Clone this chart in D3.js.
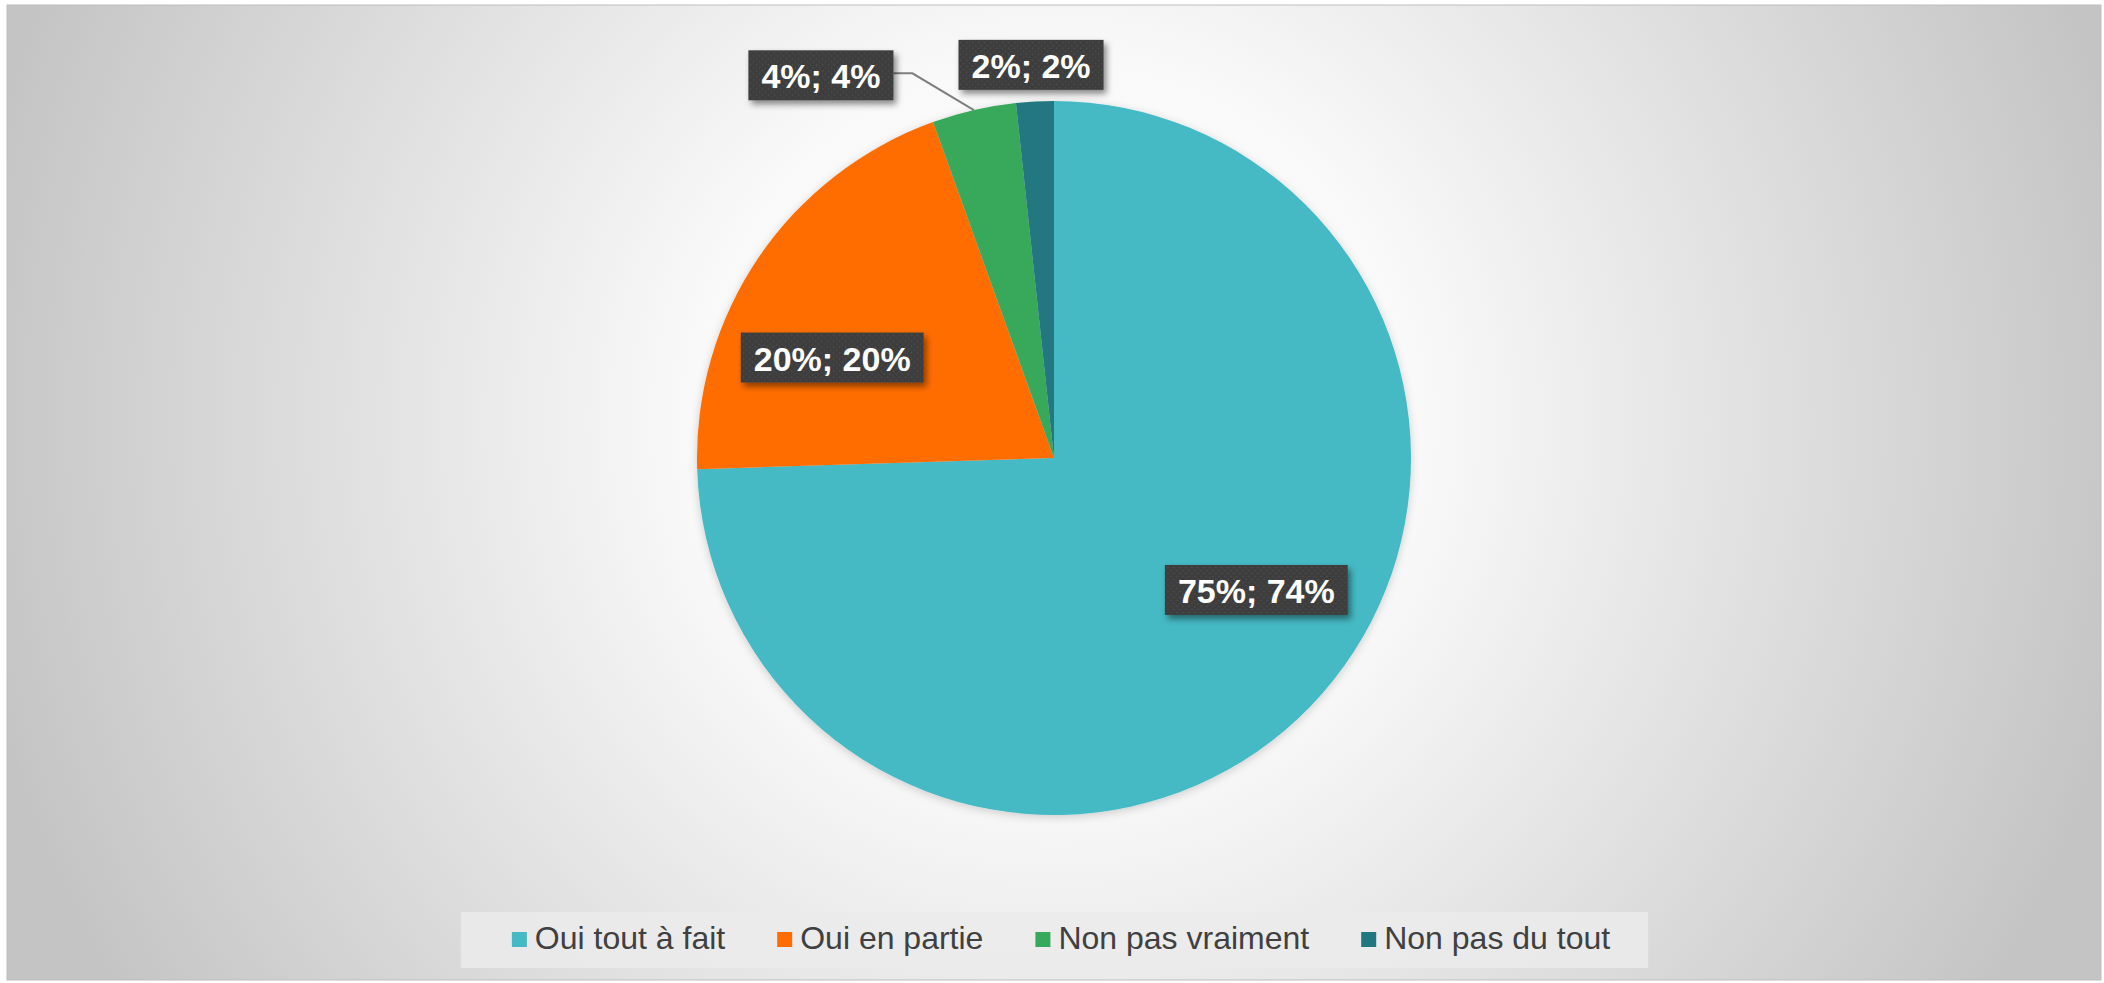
<!DOCTYPE html>
<html>
<head>
<meta charset="utf-8">
<script src="https://cdn.jsdelivr.net/npm/d3@7"></script>
<style>
  html, body { margin: 0; padding: 0; background: #ffffff; }
  svg { display: block; }
</style>
</head>
<body>
<svg id="chart" width="2104" height="983"></svg>
<script>
// ---- data ----
const categories = ["Oui tout à fait", "Oui en partie", "Non pas vraiment", "Non pas du tout"];
const values = [74.5, 20.0, 3.8, 1.7];
const labels = ["75%; 74%", "20%; 20%", "4%; 4%", "2%; 2%"];
const colors = ["#45b9c4", "#ff6d00", "#37a95a", "#217780"];

// ---- layout ----
const W = 2104, H = 983;
const cx = 1054, cy = 458, R = 357;
const svg = d3.select("#chart");
const defs = svg.append("defs");

const bg = defs.append("radialGradient").attr("id", "bg")
  .attr("gradientUnits", "userSpaceOnUse")
  .attr("cx", cx).attr("cy", 420).attr("r", 1100);
bg.append("stop").attr("offset", 0).attr("stop-color", "#ffffff");
bg.append("stop").attr("offset", 0.33).attr("stop-color", "#f9f9f9");
bg.append("stop").attr("offset", 1).attr("stop-color", "#c4c4c4");

const shadow = defs.append("filter").attr("id", "shadow")
  .attr("x", "-20%").attr("y", "-20%").attr("width", "150%").attr("height", "160%");
shadow.append("feDropShadow").attr("dx", 3).attr("dy", 4).attr("stdDeviation", 3)
  .attr("flood-color", "#000").attr("flood-opacity", 0.45);

const pieShadow = defs.append("filter").attr("id", "pieShadow")
  .attr("x", "-10%").attr("y", "-10%").attr("width", "120%").attr("height", "120%");
pieShadow.append("feDropShadow").attr("dx", 0).attr("dy", 2).attr("stdDeviation", 4)
  .attr("flood-color", "#000").attr("flood-opacity", 0.18);

const pat = defs.append("pattern").attr("id", "dots")
  .attr("patternUnits", "userSpaceOnUse").attr("width", 6).attr("height", 6);
pat.append("rect").attr("width", 6).attr("height", 6).attr("fill", "#3e3e3e");
pat.append("circle").attr("cx", 1.5).attr("cy", 1.5).attr("r", 0.8).attr("fill", "#4f4f4f");
pat.append("circle").attr("cx", 4.5).attr("cy", 4.5).attr("r", 0.8).attr("fill", "#4a4a4a");

// background
svg.append("rect").attr("x", 7).attr("y", 5).attr("width", 2094).attr("height", 975)
  .attr("fill", "url(#bg)").attr("stroke", "#bdbdbd").attr("stroke-width", 1);

// pie
const pie = d3.pie().sort(null).value(d => d)(values);
const arc = d3.arc().innerRadius(0).outerRadius(R);
const g = svg.append("g").attr("transform", `translate(${cx},${cy})`);
g.append("g").attr("filter", "url(#pieShadow)")
  .selectAll("path").data(pie).join("path")
  .attr("d", arc)
  .attr("fill", (d, i) => colors[i]);

// labels
const mid = d => (d.startAngle + d.endAngle) / 2;
const labelRadius = [R * 0.68, R * 0.68, R * 1.1, R * 1.1];
const nudge = [[28, -37], [-21, 36], [-145, 0], [-2, -1]];
const lg = g.append("g");
pie.forEach((d, i) => {
  const p = d3.pointRadial(mid(d), labelRadius[i]);
  const x = p[0] + nudge[i][0], y = p[1] + nudge[i][1];
  const item = lg.append("g").attr("transform", `translate(${x},${y})`);
  const rect = item.append("rect").attr("fill", "url(#dots)").attr("filter", "url(#shadow)");
  const t = item.append("text").text(labels[i])
    .attr("text-anchor", "middle").attr("dominant-baseline", "central")
    .attr("y", 1)
    .attr("font-family", "'Liberation Sans', Arial, sans-serif")
    .attr("font-weight", "bold").attr("font-size", 34).attr("fill", "#ffffff");
  const tw = t.node().getComputedTextLength();
  const bw = tw + 26, bh = 50;
  rect.attr("x", -bw / 2).attr("y", -bh / 2).attr("width", bw).attr("height", bh);
  if (labelRadius[i] > R) {
    const end = d3.pointRadial(mid(d), R);
    if (Math.hypot(end[0] - x, end[1] - y) > 80) {
      const sx = x + bw / 2, sy = y - 2;
      lg.insert("path", ":first-child")
        .attr("d", `M${sx},${sy} L${sx + 19},${sy} L${end[0]},${end[1]}`)
        .attr("fill", "none").attr("stroke", "#7f7f7f").attr("stroke-width", 2);
    }
  }
});

// legend
const legend = svg.append("g");
const legBox = legend.append("rect").attr("fill", "#ebebeb").attr("opacity", 0.85);
const items = legend.selectAll("g.item").data(categories).join("g").attr("class", "item");
items.append("rect").attr("width", 15).attr("height", 15).attr("y", -17)
  .attr("fill", (d, i) => colors[i]);
items.append("text").text(d => d).attr("x", 23)
  .attr("font-family", "'Liberation Sans', Arial, sans-serif")
  .attr("font-size", 32).attr("fill", "#404040");
let widths = [];
items.each(function () { widths.push(23 + d3.select(this).select("text").node().getComputedTextLength()); });
const gap = 52;
const total = d3.sum(widths) + gap * (widths.length - 1);
let x0 = cx + 7 - total / 2;
const ly = 949;
items.attr("transform", (d, i) => {
  const xx = x0; x0 += widths[i] + gap; return `translate(${xx},${ly})`;
});
const legLeft = cx + 7 - total / 2 - 51, legRight = cx + 7 + total / 2 + 38;
legBox.attr("x", legLeft).attr("y", 912).attr("width", legRight - legLeft).attr("height", 56);
</script>
</body>
</html>
